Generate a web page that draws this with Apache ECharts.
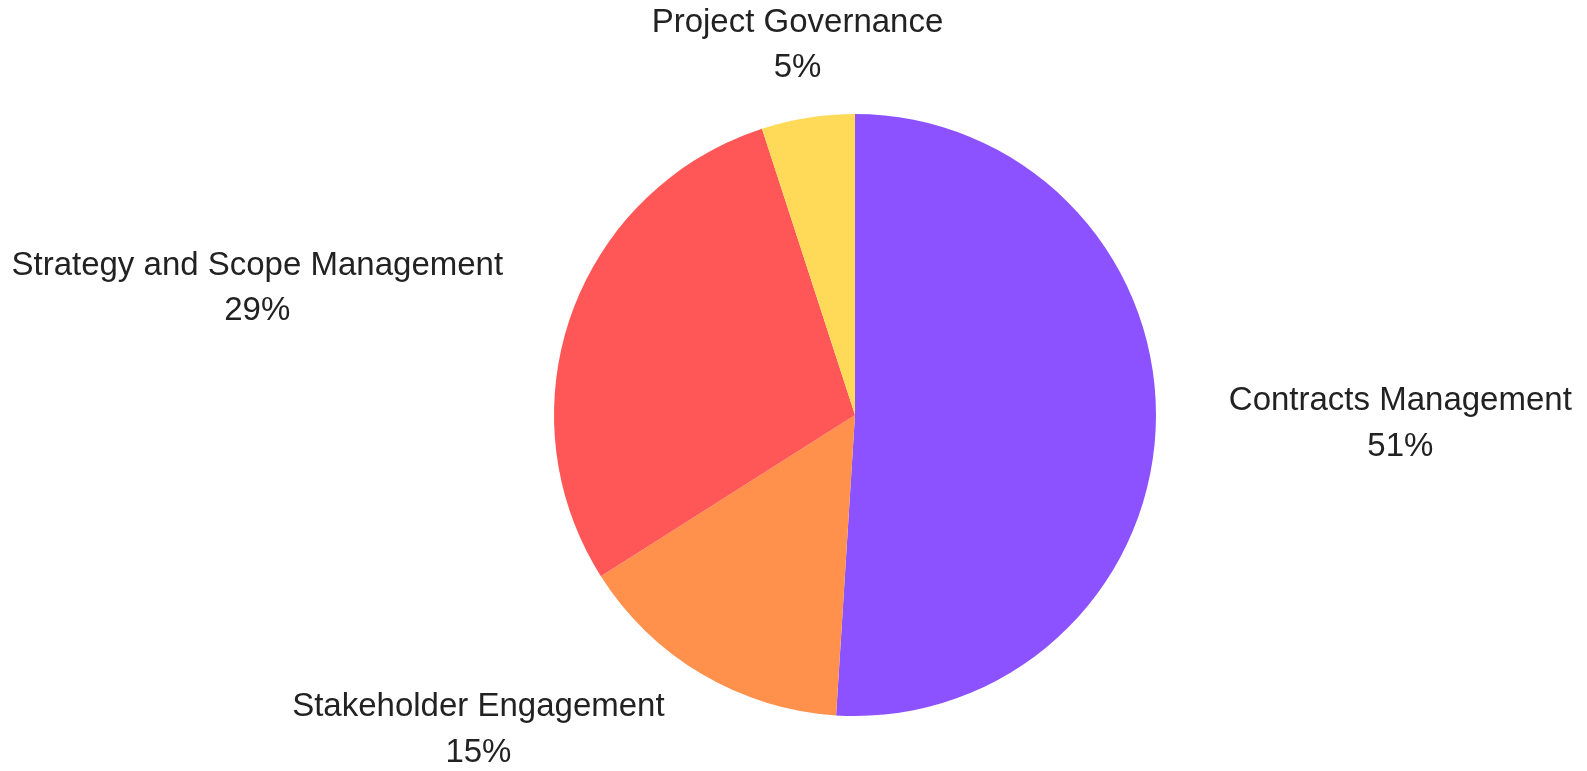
<!DOCTYPE html>
<html>
<head>
<meta charset="utf-8">
<script src="https://cdn.jsdelivr.net/npm/echarts@6/dist/echarts.min.js"></script>
<style>html,body{margin:0;padding:0;background:#fff;overflow:hidden;}#c{width:1587px;height:771px;}</style>
</head>
<body>
<div id="c"></div>
<script>
const categories = ['Contracts Management', 'Stakeholder Engagement', 'Strategy and Scope Management', 'Project Governance'];
const values = [51, 15, 29, 5];
const colors = ['#8C52FF', '#FF914D', '#FF5757', '#FFDA59'];

const chart = echarts.init(document.getElementById('c'));
const font = { fontFamily: 'Liberation Sans, Arial, sans-serif', fontSize: 33, color: '#222', lineHeight: 45.5, align: 'center' };
chart.setOption({
  animation: false,
  backgroundColor: '#fff',
  series: [{
    type: 'pie',
    center: [855, 415],
    radius: 301,
    startAngle: 90,
    clockwise: true,
    avoidLabelOverlap: false,
    data: categories.map((n, i) => ({ name: n, value: values[i], itemStyle: { color: colors[i] } })),
    itemStyle: { borderWidth: 0 },
    label: {
      show: true,
      position: 'outside',
      distanceToLabelLine: 0,
      formatter: '{n|{b}}\n{n|{c}%}',
      fontFamily: font.fontFamily,
      fontSize: font.fontSize,
      color: '#222',
      rich: { n: font }
    },
    labelLine: { show: false, length: 73, length2: 0 },
    labelLayout: function (p) {
      if (p.dataIndex === 3) {
        return { x: p.labelRect.x + p.labelRect.width + 1, align: 'center' };
      }
      if (p.dataIndex === 0) {
        return { dy: -3 };
      }
      if (p.dataIndex === 1) {
        return { dy: -7 };
      }
    }
  }]
});
</script>
</body>
</html>
